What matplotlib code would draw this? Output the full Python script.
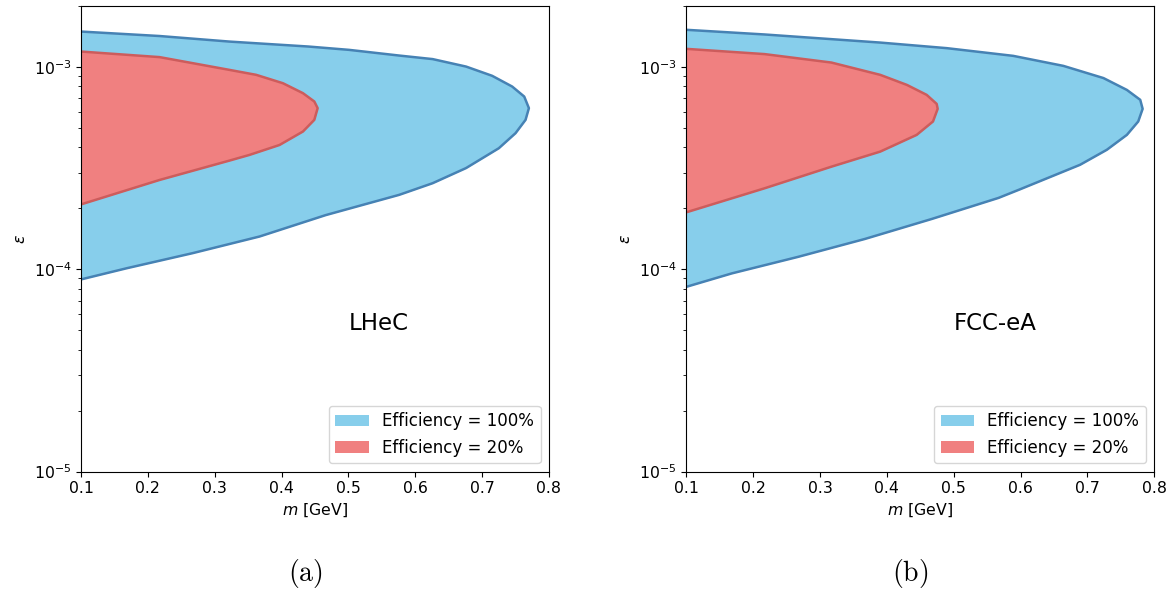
import matplotlib
matplotlib.use("Agg")
import matplotlib.pyplot as plt

# boundary of the reach region: epsilon (ascending) and the mass at which the contour sits
# LHeC, efficiency 100%
lhec_eps_100 = [8.9e-5, 1.01e-4, 1.20e-4, 1.45e-4, 1.85e-4, 2.33e-4, 2.66e-4, 3.16e-4,
                3.96e-4, 4.70e-4, 5.47e-4, 6.25e-4, 7.13e-4, 7.99e-4, 9.03e-4, 1.003e-3,
                1.092e-3, 1.137e-3, 1.213e-3, 1.26e-3, 1.333e-3, 1.42e-3, 1.494e-3]
lhec_m_100 = [0.100, 0.168, 0.267, 0.367, 0.466, 0.576, 0.626, 0.676,
              0.725, 0.750, 0.765, 0.770, 0.763, 0.745, 0.715, 0.676,
              0.626, 0.576, 0.501, 0.440, 0.322, 0.2175, 0.100]
# LHeC, efficiency 20%
lhec_eps_20 = [2.09e-4, 2.76e-4, 3.44e-4, 3.67e-4, 4.11e-4, 4.79e-4, 5.47e-4, 6.25e-4,
               6.74e-4, 7.41e-4, 8.30e-4, 9.13e-4, 9.66e-4, 1.117e-3, 1.19e-3]
lhec_m_20 = [0.100, 0.2175, 0.322, 0.352, 0.397, 0.432, 0.449, 0.454,
             0.449, 0.432, 0.402, 0.362, 0.322, 0.2175, 0.100]

# FCC-eA, efficiency 100%
fcc_eps_100 = [8.18e-5, 9.53e-5, 1.15e-4, 1.41e-4, 1.77e-4, 2.25e-4, 2.48e-4, 3.28e-4,
               3.89e-4, 4.61e-4, 5.37e-4, 6.20e-4, 6.87e-4, 7.69e-4, 8.80e-4, 1.011e-3,
               1.133e-3, 1.237e-3, 1.318e-3, 1.445e-3, 1.524e-3]
fcc_m_100 = [0.100, 0.168, 0.267, 0.367, 0.467, 0.567, 0.599, 0.689,
             0.729, 0.759, 0.776, 0.7826, 0.779, 0.759, 0.724, 0.664,
             0.589, 0.4895, 0.390, 0.2174, 0.100]
# FCC-eA, efficiency 20%
fcc_eps_20 = [1.91e-4, 2.51e-4, 3.21e-4, 3.81e-4, 4.61e-4, 5.37e-4, 6.20e-4, 6.56e-4,
              7.27e-4, 8.14e-4, 9.13e-4, 1.05e-3, 1.156e-3, 1.227e-3]
fcc_m_20 = [0.100, 0.217, 0.317, 0.390, 0.4446, 0.469, 0.476, 0.4745,
            0.4595, 0.430, 0.390, 0.317, 0.217, 0.100]

panels = [
    ("LHeC", "(a)", lhec_eps_100, lhec_m_100, lhec_eps_20, lhec_m_20),
    ("FCC-eA", "(b)", fcc_eps_100, fcc_m_100, fcc_eps_20, fcc_m_20),
]

fs = 11.3
fig = plt.figure(figsize=(11.74, 5.92), dpi=100)
ax_pos = [[0.069, 0.2035, 0.3986, 0.7865], [0.5846, 0.2035, 0.3986, 0.7865]]
caption_x = [0.260, 0.775]

for i, (name, tag, e100, m100, e20, m20) in enumerate(panels):
    ax = fig.add_axes(ax_pos[i])
    f1 = ax.fill_betweenx(e100, 0, m100, color="skyblue", linewidth=0,
                          label="Efficiency = 100%")
    ax.plot(m100, e100, color="steelblue", lw=1.8, solid_joinstyle="round")
    f2 = ax.fill_betweenx(e20, 0, m20, color="lightcoral", linewidth=0,
                          label="Efficiency = 20%")
    ax.plot(m20, e20, color="indianred", lw=1.8, solid_joinstyle="round")

    ax.set_yscale("log")
    ax.set_xlim(0.1, 0.8)
    ax.set_ylim(1e-5, 2e-3)
    ax.tick_params(labelsize=fs)
    ax.set_xlabel(r"$m$ [GeV]", fontsize=fs)
    ax.set_ylabel(r"$\epsilon$", fontsize=fs)
    ax.text(0.5, 5e-5, name, fontsize=16.5, ha="left", va="baseline")
    ax.legend(handles=[f1, f2], loc="lower right", fontsize=12)

    fig.text(caption_x[i], 0.032, r"$\mathrm{" + tag + "}$", fontsize=20,
             ha="center", va="center", math_fontfamily="cm")

fig.savefig("out.png", dpi=100)
